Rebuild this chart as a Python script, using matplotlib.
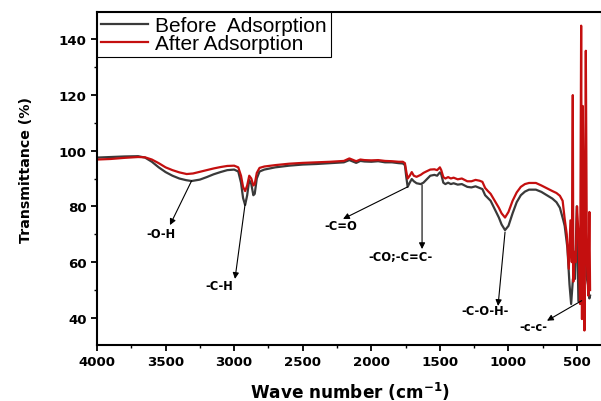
import matplotlib
matplotlib.use("Agg")
import matplotlib.pyplot as plt
from matplotlib.ticker import MultipleLocator

plt.rcParams['font.family'] = ['DejaVu Sans']

# Before adsorption
wn_before = [4000, 3900, 3800, 3700, 3650, 3600, 3550, 3500, 3450, 3400, 3350, 3310, 3250, 3200,
             3150, 3100, 3050, 3000, 2970, 2950, 2935, 2920, 2905, 2890, 2875, 2860, 2850, 2835,
             2815, 2780, 2700, 2600, 2500, 2400, 2300, 2200, 2160, 2140, 2110, 2080, 2050, 2000,
             1950, 1900, 1850, 1800, 1770, 1755, 1745, 1735, 1720, 1705, 1690, 1670, 1640, 1620,
             1600, 1570, 1540, 1520, 1500, 1490, 1475, 1460, 1440, 1420, 1400, 1370, 1340, 1300,
             1270, 1240, 1210, 1190, 1170, 1150, 1130, 1100, 1070, 1050, 1025, 1000, 970, 940,
             910, 880, 850, 800, 760, 720, 680, 650, 625, 600, 590, 570, 555, 543, 530, 515,
             502, 490, 475, 466, 455, 445, 440, 432, 420, 410, 405]
tr_before = [97.5, 97.7, 97.9, 98.0, 97.5, 96.0, 94.0, 92.3, 91.0, 90.0, 89.4, 89.1, 89.6, 90.5,
             91.5, 92.3, 93.0, 93.2, 92.5, 88.5, 83.0, 80.5, 84.0, 89.5, 88.0, 84.0, 84.5, 90.0,
             92.5, 93.2, 94.0, 94.6, 95.0, 95.2, 95.5, 95.8, 96.6, 96.2, 95.6, 96.3, 96.1, 96.0,
             96.2, 95.8, 95.8, 95.5, 95.4, 94.8, 90.5, 87.0, 88.5, 89.8, 89.0, 88.3, 88.0, 88.5,
             89.5, 91.0, 91.3, 91.0, 92.2, 91.5, 88.5, 88.0, 88.5, 88.0, 88.3, 87.8, 88.0, 87.0,
             86.8, 87.2, 86.6, 86.2, 84.0, 83.0, 82.0, 79.0, 76.0, 73.5, 71.5, 73.0, 77.5, 81.5,
             84.0, 85.3, 86.0, 86.0, 85.2, 84.0, 82.8, 81.5, 79.5, 75.0, 73.0, 65.0, 52.0, 45.0, 54.0, 54.0,
             80.0, 46.0, 58.0, 47.0, 45.6, 75.0, 85.0, 55.0, 52.0, 47.0, 48.0]

# After adsorption
wn_after = [4000, 3900, 3800, 3700, 3650, 3600, 3550, 3500, 3450, 3400, 3346, 3300, 3250, 3200,
            3150, 3100, 3050, 3000, 2970, 2950, 2935, 2920, 2905, 2890, 2875, 2860, 2850, 2835,
            2815, 2780, 2700, 2600, 2500, 2400, 2300, 2200, 2160, 2140, 2110, 2080, 2050, 2000,
            1950, 1900, 1850, 1800, 1770, 1755, 1745, 1735, 1720, 1705, 1690, 1670, 1640, 1620,
            1600, 1570, 1540, 1520, 1500, 1490, 1475, 1460, 1440, 1420, 1400, 1370, 1340, 1300,
            1270, 1240, 1210, 1190, 1170, 1150, 1130, 1100, 1070, 1050, 1025, 1000, 970, 940,
            910, 880, 850, 800, 760, 720, 680, 650, 625, 605, 590, 575, 560, 548, 538, 531,
            527, 520, 510, 500, 490, 478, 470, 464, 458, 452, 446, 436, 428, 418, 410, 405]
tr_after = [96.8, 97.0, 97.4, 97.7, 97.6, 96.8, 95.5, 94.0, 93.0, 92.2, 91.6, 91.8, 92.4, 93.0,
            93.6, 94.1, 94.5, 94.6, 94.0, 91.0, 87.0, 85.5, 87.5, 91.0, 90.0, 87.5, 88.0, 92.0,
            93.8, 94.3, 94.8, 95.3, 95.6, 95.8, 96.0, 96.3, 97.2, 96.8, 96.2, 96.8, 96.6, 96.5,
            96.6, 96.3, 96.2, 96.0, 96.0, 95.5, 92.5, 90.0, 91.0, 92.3, 91.0, 90.6, 91.3, 92.0,
            92.5, 93.2, 93.3, 93.0, 94.0, 93.0, 90.5, 90.0, 90.5, 90.0, 90.3, 89.7, 90.0, 89.0,
            89.0, 89.5, 89.2, 88.8, 86.6, 85.5, 84.5, 82.0, 79.5, 77.5, 76.0, 78.0, 82.0, 85.0,
            87.0, 88.0, 88.4, 88.4, 87.5, 86.5, 85.5, 84.8, 83.8, 82.0, 75.5, 70.0, 57.6, 75.0, 60.0, 119.9,
            53.0, 63.7, 60.0, 80.0, 70.0, 45.0, 144.8, 39.6, 116.0, 70.0, 35.5, 135.8, 60.0, 48.0, 78.0, 50.0]

# annotations: label, label position, arrow tail (on curve), arrow head (near label)
labels = ["-O-H", "-C-H", "-C=O", "-CO;-C=C-", "-C-O-H-", "-c-c-"]
label_pos = [(3533, 70.1), (3107, 51.6), (2221, 73.0), (1790, 62.2), (1171, 42.5), (821, 36.8)]
arrow_tail = [(3310, 89.2), (2920, 80.9), (1735, 87.0), (1630, 87.7), (1025, 70.8), (466, 46.2)]
arrow_head = [(3468, 73.3), (2994, 54.0), (2206, 75.5), (1630, 64.7), (1076, 44.3), (719, 39.0)]

fig = plt.figure(figsize=(6.01, 4.02), dpi=100)
ax = fig.add_axes([97 / 601, 1 - 346 / 402, 505 / 601, (346 - 13) / 402])

ax.plot(wn_before, tr_before, color='#3a3a3a', lw=1.6, label='Before  Adsorption')
ax.plot(wn_after, tr_after, color='#c40f0f', lw=1.6, label='After Adsorption')

for lab, lp, tl, hd in zip(labels, label_pos, arrow_tail, arrow_head):
    ax.annotate('', xy=hd, xytext=tl,
                arrowprops=dict(arrowstyle='-|>', color='black', lw=0.8, mutation_scale=9,
                                shrinkA=0, shrinkB=0))
    ax.text(lp[0], lp[1], lab, ha='center', va='center', fontsize=8.3, fontweight='bold')

ax.set_xlim(4000, 318)
ax.set_ylim(30.3, 149.7)
ax.xaxis.set_major_locator(MultipleLocator(500))
ax.xaxis.set_minor_locator(MultipleLocator(250))
ax.yaxis.set_major_locator(MultipleLocator(20))
ax.yaxis.set_minor_locator(MultipleLocator(10))
ax.set_yticks([40, 60, 80, 100, 120, 140])
ax.tick_params(which='major', direction='out', length=4, width=1.3, labelsize=9.6)
ax.tick_params(which='minor', direction='out', length=2.5, width=1.0)
for t in ax.get_xticklabels() + ax.get_yticklabels():
    t.set_fontweight('bold')
for s in ax.spines.values():
    s.set_linewidth(1.5)

ax.set_xlabel('Wave number (cm$^{\\mathbf{-1}}$)', fontsize=12.2, fontweight='bold', labelpad=8)
ax.set_ylabel('Transmittance (%)', fontsize=10.2, fontweight='bold')
ax.yaxis.set_label_coords(-0.127, 0.53)

leg = ax.legend(loc='upper left', bbox_to_anchor=(0, 1), frameon=True,
                prop={'family': ['Liberation Sans', 'DejaVu Sans'], 'size': 15},
                fancybox=False, edgecolor='black', framealpha=1, borderpad=0.2,
                labelspacing=-0.05, handlelength=2.25, handletextpad=0.35, borderaxespad=0)
leg.get_frame().set_linewidth(0.8)

fig.savefig('out.png', dpi=100)
